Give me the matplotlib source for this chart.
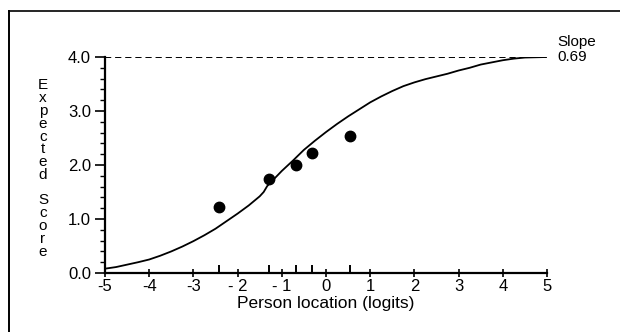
import matplotlib
matplotlib.use("Agg")
import matplotlib.pyplot as plt
from matplotlib.lines import Line2D

plt.rcParams['font.family'] = ['Liberation Sans', 'DejaVu Sans']

# Expected score curve
curve_x = [-5.0, -4.75, -4.5, -4.25, -4.0, -3.75, -3.5, -3.25, -3.0, -2.75, -2.5, -2.25, -2.0, -1.75,
           -1.5, -1.41, -1.33, -1.0, -0.75, -0.5, -0.25, 0.0, 0.25, 0.5, 0.75, 1.0, 1.25, 1.5, 1.75,
           2.0, 2.25, 2.5, 2.75, 3.0, 3.25, 3.5, 3.75, 4.0, 4.25, 4.5, 5.0]
curve_y = [0.08, 0.11, 0.155, 0.20, 0.25, 0.32, 0.40, 0.49, 0.59, 0.70, 0.82, 0.96, 1.10, 1.25,
           1.42, 1.50, 1.61, 1.89, 2.08, 2.28, 2.45, 2.61, 2.76, 2.90, 3.03, 3.16, 3.27, 3.37, 3.46,
           3.53, 3.59, 3.64, 3.69, 3.75, 3.80, 3.86, 3.90, 3.94, 3.97, 3.99, 4.00]

# Observed class means
point_x = [-2.41, -1.29, -0.69, -0.32, 0.54]
point_y = [1.23, 1.75, 2.00, 2.22, 2.53]

x_ticks = [-5, -4, -3, -2, -1, 0, 1, 2, 3, 4, 5]
x_ticklabels = ['-5', '-4', '-3', '- 2', '- 1', '0', '1', '2', '3', '4', '5']
y_ticks = [0.0, 1.0, 2.0, 3.0, 4.0]
y_ticklabels = ['0.0', '1.0', '2.0', '3.0', '4.0']
y_minor = [0.2, 0.4, 0.6, 0.8, 1.2, 1.4, 1.6, 1.8, 2.2, 2.4, 2.6, 2.8, 3.2, 3.4, 3.6, 3.8]
asymptote = 4.0
slope_text = ['Slope', '0.69']
x_label = 'Person location (logits)'
y_label = 'Expected Score'

fig = plt.figure(figsize=(6.2, 3.32), dpi=100)
ax = fig.add_axes([105/620, 1 - 273/332, (547 - 105)/620, (273 - 57)/332])

ax.plot(curve_x, curve_y, color='black', lw=1.3, solid_capstyle='round', solid_joinstyle='round')
ax.plot(point_x, point_y, 'o', color='black', markersize=7.5)
ax.axhline(asymptote, color='black', lw=1.4, linestyle=(0, (3.2, 2.0)))

ax.set_xlim(-5, 5)
ax.set_ylim(0, 4)
for s in ['top', 'right']:
    ax.spines[s].set_visible(False)
for s in ['left', 'bottom']:
    ax.spines[s].set_linewidth(1.6)

ax.set_xticks(x_ticks)
ax.set_xticklabels(x_ticklabels)
ax.set_xticks(point_x, minor=True)
ax.set_yticks(y_ticks)
ax.set_yticklabels(y_ticklabels)
ax.set_yticks(y_minor, minor=True)

ax.tick_params(axis='x', which='major', direction='inout', length=6, width=1.2, pad=1, labelsize=12)
ax.tick_params(axis='x', which='minor', direction='in', length=5.5, width=1.4)
ax.tick_params(axis='y', which='major', direction='out', length=7, width=1.2, pad=3, labelsize=12)
ax.tick_params(axis='y', which='minor', direction='out', length=3.6, width=1.0)

ax.set_xlabel(x_label, fontsize=12.5, labelpad=2)

fig.text(43/620, 1 - 168.5/332, '\n'.join(list(y_label)), fontsize=11,
         ha='center', va='center', multialignment='center', linespacing=0.89)

fig.text(557/620, 1 - 42/332, slope_text[0], fontsize=11, ha='left', va='center')
fig.text(557/620, 1 - 57/332, slope_text[1], fontsize=11, ha='left', va='center')

# page border (top and left)
fig.add_artist(Line2D([9/620, 1.0], [1 - 11/332, 1 - 11/332], transform=fig.transFigure, color='black', lw=1.2))
fig.add_artist(Line2D([9/620, 9/620], [0.0, 1 - 11/332], transform=fig.transFigure, color='black', lw=1.4))

fig.savefig('out.png', dpi=100)
